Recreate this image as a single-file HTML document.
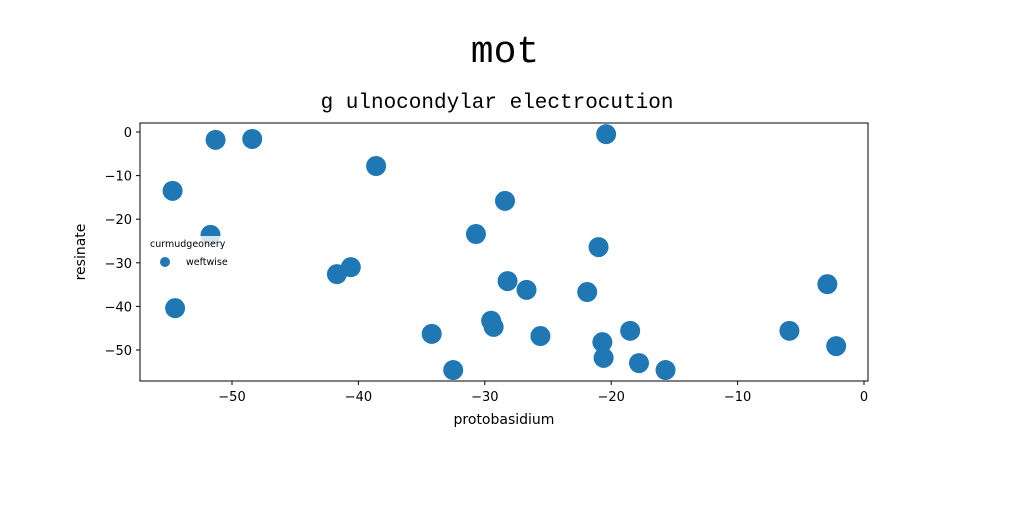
<!DOCTYPE html>
<html><head><meta charset="utf-8"><style>
body{margin:0;background:#fff;width:1024px;height:512px;overflow:hidden}
svg text{fill:#000}
</style></head><body>
<svg id="chart" width="1024" height="512" xmlns="http://www.w3.org/2000/svg">
<text x="505" y="62" text-anchor="middle" font-family="Liberation Mono, monospace" font-size="38">mot</text>
<text x="497" y="108" text-anchor="middle" font-family="Liberation Mono, monospace" font-size="21">g ulnocondylar electrocution</text>
<g id="marks"></g>
<rect x="140" y="123" width="728" height="258" fill="none" stroke="#000" stroke-width="1"/>
<g id="axes" font-family="DejaVu Sans, sans-serif" font-size="13"></g>
<text x="504" y="424" text-anchor="middle" font-family="DejaVu Sans, sans-serif" font-size="14">protobasidium</text>
<text transform="translate(85,252) rotate(-90)" text-anchor="middle" font-family="DejaVu Sans, sans-serif" font-size="14">resinate</text>
<g>
<rect x="146" y="236" width="96" height="36" fill="#fff" fill-opacity="0.8"/>
<text x="150" y="247" font-family="DejaVu Sans, sans-serif" font-size="9.5">curmudgeonery</text>
<circle cx="165" cy="262" r="5" fill="#1f77b4"/>
<text x="186" y="265" font-family="DejaVu Sans, sans-serif" font-size="9.5">weftwise</text>
</g>
</svg>
<script>
const xs=[-51.3,-48.4,-20.4,-38.6,-54.7,-28.4,-51.7,-30.7,-21.0,-40.6,-41.7,-28.2,-26.7,-21.9,-2.9,-54.5,-34.2,-29.5,-29.3,-25.6,-18.5,-20.7,-20.6,-17.8,-15.7,-32.5,-5.9,-2.2];
const ys=[-1.8,-1.6,-0.5,-7.8,-13.5,-15.8,-23.6,-23.4,-26.4,-31.0,-32.6,-34.2,-36.2,-36.7,-34.9,-40.4,-46.3,-43.3,-44.7,-46.8,-45.6,-48.2,-51.8,-53.0,-54.6,-54.6,-45.6,-49.1];
const xTicks=[-50,-40,-30,-20,-10,0];
const yTicks=[0,-10,-20,-30,-40,-50];
const X=v=>864+v*12.64;
const Y=v=>132-v*4.36;
const NS='http://www.w3.org/2000/svg';
const marks=document.getElementById('marks');
for(let i=0;i<xs.length;i++){
 const c=document.createElementNS(NS,'ellipse');
 c.setAttribute('cx',X(xs[i]));c.setAttribute('cy',Y(ys[i]));c.setAttribute('rx',10);c.setAttribute('ry',10);c.setAttribute('fill','#1f77b4');
 
 
 marks.appendChild(c);
}
const ax=document.getElementById('axes');
const lab=v=>v<0?'\u2212'+(-v):String(v);
xTicks.forEach(t=>{
 const l=document.createElementNS(NS,'line');
 l.setAttribute('x1',X(t));l.setAttribute('x2',X(t));l.setAttribute('y1',381);l.setAttribute('y2',385);l.setAttribute('stroke','#000');
 
 
 ax.appendChild(l);
 const tx=document.createElementNS(NS,'text');
 tx.setAttribute('x',X(t));tx.setAttribute('y',401);tx.setAttribute('text-anchor','middle');tx.textContent=lab(t);
 
 
 ax.appendChild(tx);
});
yTicks.forEach(t=>{
 const l=document.createElementNS(NS,'line');
 l.setAttribute('x1',136);l.setAttribute('x2',140);l.setAttribute('y1',Y(t));l.setAttribute('y2',Y(t));l.setAttribute('stroke','#000');
 
 
 ax.appendChild(l);
 const tx=document.createElementNS(NS,'text');
 tx.setAttribute('x',132);tx.setAttribute('y',Y(t)+5);tx.setAttribute('text-anchor','end');tx.textContent=lab(t);
 
 
 ax.appendChild(tx);
});
</script>
</body></html>
